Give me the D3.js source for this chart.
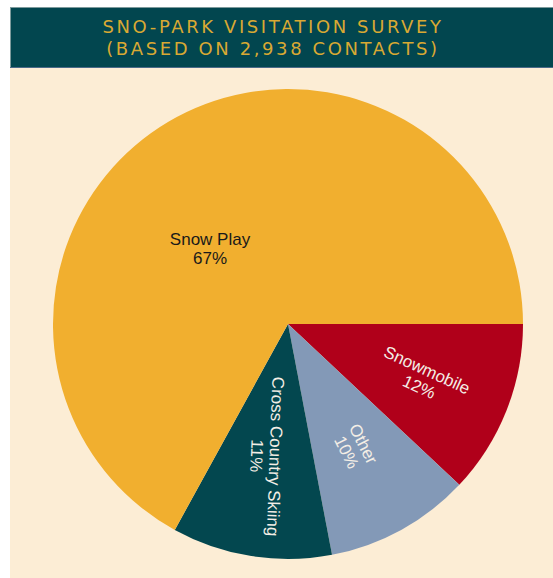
<!DOCTYPE html>
<html>
<head>
<meta charset="utf-8">
<script src="https://cdn.jsdelivr.net/npm/d3@7"></script>
<style>
  html, body { margin: 0; padding: 0; background: #ffffff; }
  svg { display: block; }
</style>
</head>
<body>
<svg id="chart" width="553" height="578"></svg>
<script>
// ---- data ----
const titleLines = ["SNO-PARK VISITATION SURVEY", "(BASED ON 2,938 CONTACTS)"];
const categories = ["Snowmobile", "Other", "Cross Country Skiing", "Snow Play"];
const values = [12, 10, 11, 67];
const colors = ["#b0001a", "#8399b7", "#03474f", "#f1af2f"];
const labelColors = ["#f4eee6", "#f4eee6", "#f4eee6", "#1a1a1a"];

const W = 553, H = 578;
const svg = d3.select("#chart");

// panel
svg.append("rect").attr("x", 10).attr("y", 8).attr("width", W - 10).attr("height", H - 8)
  .attr("fill", "#fcedd5");
svg.append("rect").attr("x", 10).attr("y", 7).attr("width", W - 10).attr("height", 60)
  .attr("fill", "#02464f");
svg.append("line").attr("x1", 10).attr("x2", W).attr("y1", 7.5).attr("y2", 7.5)
  .attr("stroke", "#7d9a9c").attr("stroke-width", 1);
svg.append("line").attr("x1", 10.5).attr("x2", 10.5).attr("y1", 7).attr("y2", 67)
  .attr("stroke", "#7d9a9c").attr("stroke-width", 1);
svg.append("line").attr("x1", 10).attr("x2", W).attr("y1", 67.5).attr("y2", 67.5)
  .attr("stroke", "#4a6a88").attr("stroke-width", 1);

svg.selectAll("text.title").data(titleLines).join("text")
  .attr("class", "title")
  .attr("x", 273).attr("y", (d, i) => 33 + i * 22)
  .attr("text-anchor", "middle")
  .attr("font-family", "'DejaVu Sans', sans-serif")
  .attr("font-size", 18)
  .attr("letter-spacing", 2.6)
  .attr("fill", "#d9a933")
  .text(d => d);

// pie
const cx = 288, cy = 324, R = 235;
const data = categories.map((c, i) => ({ name: c, value: values[i], i }));
const pie = d3.pie().value(d => d.value).sort(null)
  .startAngle(Math.PI / 2).endAngle(Math.PI / 2 + 2 * Math.PI);
const arcs = pie(data);
const arc = d3.arc().innerRadius(0).outerRadius(R);

const g = svg.append("g").attr("transform", `translate(${cx},${cy})`);
g.selectAll("path").data(arcs).join("path")
  .attr("d", arc)
  .attr("fill", d => colors[d.data.i]);

const labelR = [0.62, 0.6, 0.57, 0];
const rotOffset = [3, 2, -7, 0];
const lab = g.selectAll("g.lab").data(arcs).join("g").attr("class", "lab")
  .attr("transform", d => {
    const i = d.data.i;
    if (d.data.name === "Snow Play") return `translate(-78,-76)`;
    const mid = (d.startAngle + d.endAngle) / 2;
    const r = R * labelR[i];
    const x = Math.sin(mid) * r, y = -Math.cos(mid) * r;
    const rot = mid * 180 / Math.PI - 90 + rotOffset[i];
    return `translate(${x},${y}) rotate(${rot})`;
  });
lab.append("text")
  .attr("text-anchor", "middle")
  .attr("font-family", "'Liberation Sans', Arial, sans-serif")
  .attr("font-size", 17)
  .attr("fill", d => labelColors[d.data.i])
  .selectAll("tspan")
  .data(d => [d.data.name, d.data.value + "%"])
  .join("tspan")
  .attr("x", 0)
  .attr("dy", (d, j) => j === 0 ? "-0.15em" : "1.1em")
  .text(d => d);
</script>
</body>
</html>
